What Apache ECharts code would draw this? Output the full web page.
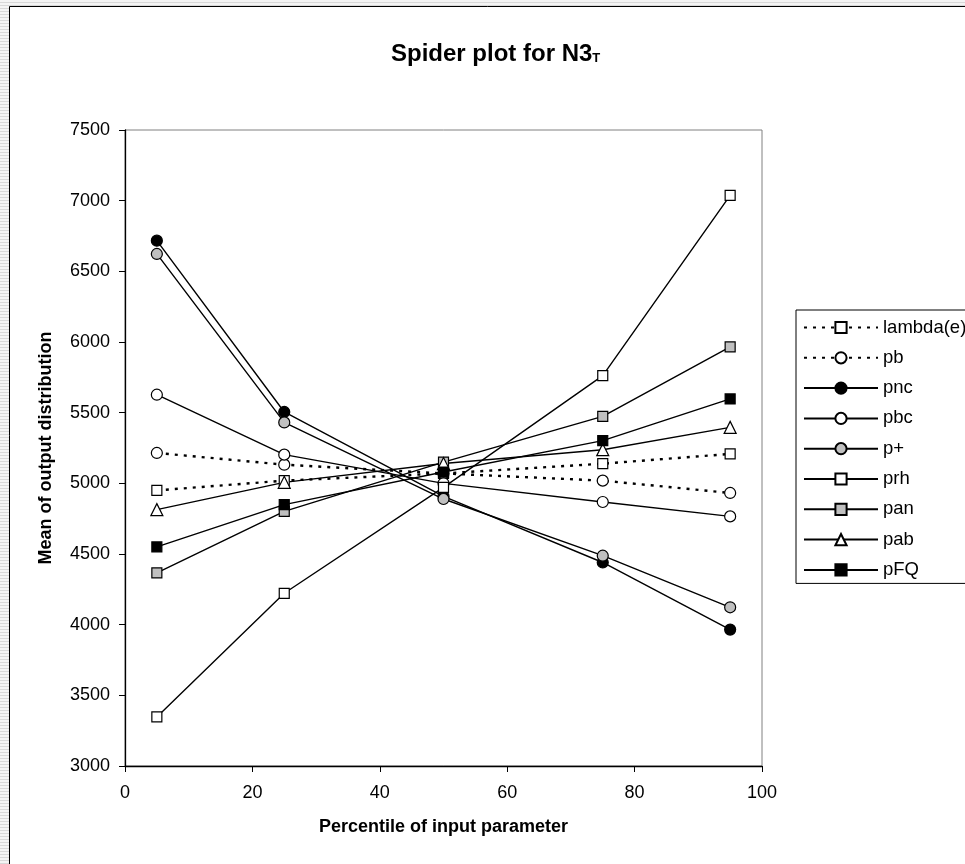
<!DOCTYPE html>
<html>
<head>
<meta charset="utf-8">
<script src="https://cdn.jsdelivr.net/npm/echarts@6/dist/echarts.min.js"></script>
<style>
  html, body { margin: 0; padding: 0; }
  body {
    width: 965px; height: 864px; overflow: hidden;
    background: repeating-linear-gradient(to bottom, #f4f4f4 0px, #f4f4f4 2px, #d8d8d8 2px, #d8d8d8 3px);
  }
  #chart { width: 965px; height: 864px; }
</style>
</head>
<body>
<div id="chart"></div>
<script>
// percentile of the input parameter
var percentiles = [5, 25, 50, 75, 95];

// mean of output distribution
var lambdaE = [4950, 5019, 5070, 5139, 5208];
var pb      = [5215, 5132, 5070, 5019, 4932];
var pnc     = [6717, 5505, 4908, 4440, 3965];
var pbc     = [5627, 5203, 5000, 4868, 4766];
var pPlus   = [6623, 5431, 4889, 4488, 4123];
var prh     = [3347, 4222, 4971, 5762, 7037];
var pan     = [4366, 4802, 5150, 5474, 5965];
var pab     = [4814, 5007, 5140, 5238, 5396];
var pFQ     = [4550, 4849, 5080, 5302, 5597];

var xTicks = [0, 20, 40, 60, 80, 100];
var yTicks = [3000, 3500, 4000, 4500, 5000, 5500, 6000, 6500, 7000, 7500];

function pairs(vals) {
    return vals.map(function (v, i) { return [percentiles[i], v]; });
}

// name, values, symbol, fill, dotted
var seriesDefs = [
    ['lambda(e)', lambdaE, 'rect', '#ffffff', true],
    ['pb', pb, 'circle', '#ffffff', true],
    ['pnc', pnc, 'circle', '#000000', false],
    ['pbc', pbc, 'circle', '#ffffff', false],
    ['p+', pPlus, 'circle', '#c0c0c0', false],
    ['prh', prh, 'rect', '#ffffff', false],
    ['pan', pan, 'rect', '#c0c0c0', false],
    ['pab', pab, 'triangle', '#ffffff', false],
    ['pFQ', pFQ, 'rect', '#000000', false]
];

var chart = echarts.init(document.getElementById('chart'));

var series = seriesDefs.map(function (d) {
    return {
        name: d[0],
        type: 'line',
        data: pairs(d[1]),
        symbol: d[2],
        symbolSize: d[2] === 'circle' ? 11 : (d[2] === 'triangle' ? 12 : 10),
        showAllSymbol: true,
        animation: false,
        lineStyle: {
            color: '#000000',
            width: d[4] ? 2.4 : 1.4,
            type: d[4] ? [3, 6] : 'solid'
        },
        itemStyle: {
            color: d[3],
            borderColor: '#000000',
            borderWidth: 1.2
        },
        emphasis: { disabled: true }
    };
});

var option = {
    backgroundColor: 'transparent',
    animation: false,
    graphic: [{
        type: 'rect',
        z: -10,
        shape: { x: 9.5, y: 6.5, width: 1000, height: 1000 },
        style: { fill: '#ffffff', stroke: '#000000', lineWidth: 1 }
    }],
    title: {
        text: '{a|Spider plot for N3}{s|T}',
        left: 386,
        top: 36,
        textStyle: {
            rich: {
                a: { fontFamily: 'Liberation Sans', fontSize: 24, fontWeight: 'bold', color: '#000', lineHeight: 26 },
                s: { fontFamily: 'Liberation Sans', fontSize: 13, fontWeight: 'bold', color: '#000', lineHeight: 13, verticalAlign: 'bottom', padding: [0, 0, 2, 0] }
            }
        }
    },
    legend: {
        orient: 'vertical',
        left: 796,
        top: 310,
        padding: [8, 10, 4, 7],
        itemWidth: 74,
        itemHeight: 14,
        itemGap: 11.3,
        selectedMode: false,
        borderColor: '#000000',
        borderWidth: 1,
        backgroundColor: '#ffffff',
        textStyle: { fontFamily: 'Liberation Sans', fontSize: 18.5, color: '#000', lineHeight: 19 },
        data: seriesDefs.map(function (d) { return d[0]; })
    },
    grid: {
        left: 125,
        right: 203,
        top: 130,
        bottom: 98,
        show: true,
        borderColor: '#808080',
        borderWidth: 1,
        backgroundColor: 'transparent'
    },
    xAxis: {
        type: 'value',
        min: xTicks[0],
        max: xTicks[xTicks.length - 1],
        interval: 20,
        name: 'Percentile of input parameter',
        nameLocation: 'middle',
        nameGap: 52,
        nameTextStyle: { fontFamily: 'Liberation Sans', fontSize: 18, fontWeight: 'bold', color: '#000' },
        axisLine: { show: true, lineStyle: { color: '#000', width: 1.3 } },
        axisTick: { show: true, length: 6, lineStyle: { color: '#000' } },
        axisLabel: { margin: 18, fontFamily: 'Liberation Sans', fontSize: 18, color: '#000' },
        splitLine: { show: false }
    },
    yAxis: {
        type: 'value',
        min: yTicks[0],
        max: yTicks[yTicks.length - 1],
        interval: 500,
        name: 'Mean of output distribution',
        nameLocation: 'middle',
        nameGap: 70,
        nameTextStyle: { fontFamily: 'Liberation Sans', fontSize: 18, fontWeight: 'bold', color: '#000' },
        axisLine: { show: true, lineStyle: { color: '#000', width: 1.3 } },
        axisTick: { show: true, length: 6, lineStyle: { color: '#000' } },
        axisLabel: {
            margin: 15, fontFamily: 'Liberation Sans', fontSize: 18, color: '#000',
            formatter: function (v) { return String(v); }
        },
        splitLine: { show: false }
    },
    series: series
};

chart.setOption(option);
</script>
</body>
</html>
